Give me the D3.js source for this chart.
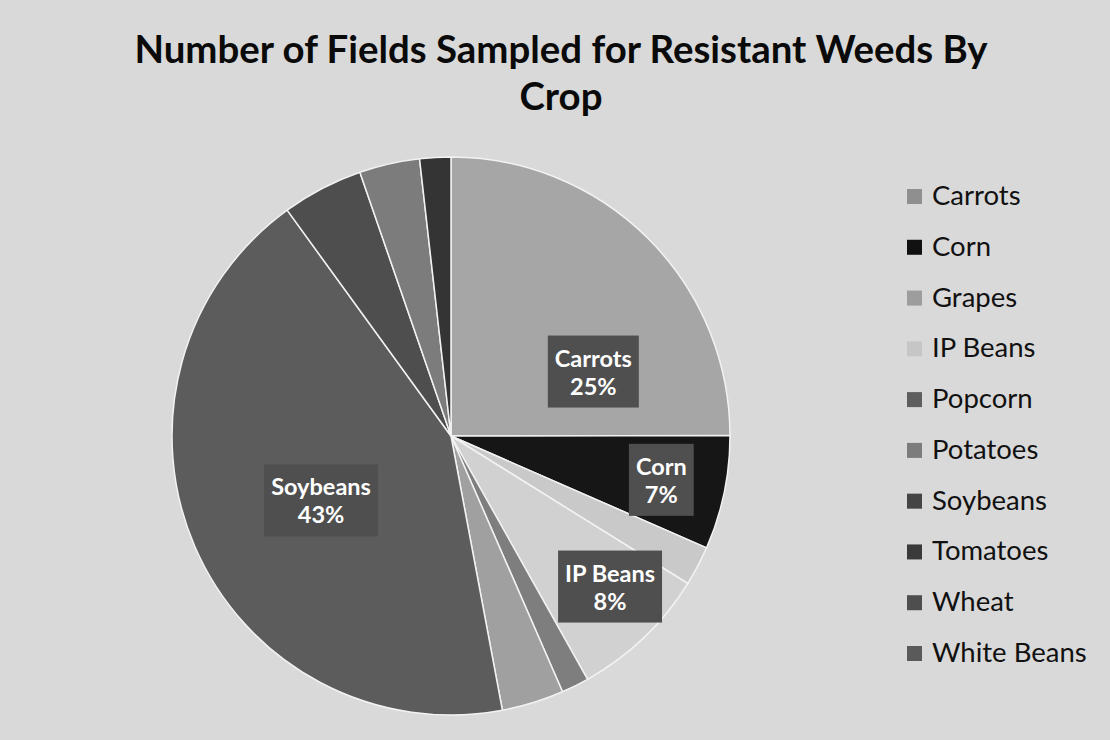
<!DOCTYPE html>
<html>
<head>
<meta charset="utf-8">
<script src="https://cdn.jsdelivr.net/npm/d3@7"></script>
<style>
  html, body { margin: 0; padding: 0; background: #d9d9d9; }
  svg { display: block; }
</style>
</head>
<body>
<svg id="chart" width="1110" height="740"></svg>
<script>
// ---- data ----
const titleLines = ["Number of Fields Sampled for Resistant Weeds By", "Crop"];
const categories = ["Carrots", "Corn", "Grapes", "IP Beans", "Popcorn", "Potatoes", "Soybeans", "Tomatoes", "Wheat", "White Beans"];
const values = [25.0, 6.6, 2.3, 8.0, 1.6, 3.6, 43.0, 4.7, 3.5, 1.8];
const labeled = ["Carrots", "Corn", "IP Beans", "Soybeans"];

// ---- styling / layout ----
const palette = ["#a6a6a6", "#161616", "#c9c9c9", "#d1d1d1", "#7e7e7e", "#a0a0a0", "#5c5c5c", "#4e4e4e", "#7c7c7c", "#343434"];
const legendPalette = ["#8f8f8f", "#111111", "#9d9d9d", "#c6c6c6", "#5e5e5e", "#7c7c7c", "#444444", "#3a3a3a", "#4e4e4e", "#5a5a5a"];
// label placement inside its slice: fraction along the slice angle, fraction of radius
const labelPlacement = {
  "Carrots": [0.73, 0.56],
  "Corn": [0.5, 0.77],
  "IP Beans": [0.4, 0.785],
  "Soybeans": [0.48, 0.52]
};

const W = 1110, H = 740;
const cx = 451, cy = 436, R = 279;
const svg = d3.select("#chart");

svg.append("rect").attr("width", W).attr("height", H).attr("fill", "#d9d9d9");

// title
const title = svg.append("text")
  .attr("text-anchor", "middle")
  .attr("font-family", "Lato, 'Open Sans', sans-serif")
  .attr("font-weight", "bold")
  .attr("font-size", 38.4)
  .attr("fill", "#0a0a0a");
titleLines.forEach((t, i) => {
  title.append("tspan").attr("x", 561).attr("y", 63 + i * 47).text(t);
});

const color = d3.scaleOrdinal().domain(categories).range(palette);
const legendColor = d3.scaleOrdinal().domain(categories).range(legendPalette);

const data = categories.map((c, i) => ({ name: c, value: values[i] }));
const total = d3.sum(values);
const pie = d3.pie().sort(null).value(d => d.value);
const arcs = pie(data);
const arc = d3.arc().innerRadius(0).outerRadius(R);

const g = svg.append("g").attr("transform", `translate(${cx},${cy})`);
g.selectAll("path.slice")
  .data(arcs)
  .join("path")
  .attr("class", "slice")
  .attr("d", arc)
  .attr("fill", d => color(d.data.name))
  .attr("stroke", "#f2f2f2")
  .attr("stroke-width", 1.5)
  .attr("stroke-linejoin", "round");

// data labels
const labelG = g.selectAll("g.lbl")
  .data(arcs.filter(d => labeled.includes(d.data.name)))
  .join("g")
  .attr("class", "lbl")
  .attr("transform", d => {
    const [t, rf] = labelPlacement[d.data.name];
    const a = d.startAngle + t * (d.endAngle - d.startAngle);
    const r = rf * R;
    return `translate(${r * Math.sin(a)},${-r * Math.cos(a)})`;
  });

labelG.each(function(d) {
  const sel = d3.select(this);
  const txt = sel.append("text")
    .attr("text-anchor", "middle")
    .attr("font-family", "Lato, 'Open Sans', sans-serif")
    .attr("font-weight", "bold")
    .attr("font-size", 23.5)
    .attr("fill", "#ffffff");
  txt.append("tspan").attr("x", 0).attr("y", -5).text(d.data.name);
  txt.append("tspan").attr("x", 0).attr("y", 23).text(Math.round(d.data.value / total * 100) + "%");
  const bb = txt.node().getBBox();
  sel.insert("rect", "text")
    .attr("x", bb.x - 7)
    .attr("y", -36)
    .attr("width", bb.width + 14)
    .attr("height", 72)
    .attr("fill", "#4f4f4f");
});

// legend
const legend = svg.append("g").attr("transform", "translate(907,0)");
const ly = d3.scalePoint().domain(categories).range([205, 662]);
const items = legend.selectAll("g.item")
  .data(categories)
  .join("g")
  .attr("class", "item")
  .attr("transform", d => `translate(0,${ly(d)})`);
items.append("rect")
  .attr("x", 0).attr("y", -16)
  .attr("width", 15).attr("height", 15)
  .attr("fill", d => legendColor(d));
items.append("text")
  .attr("x", 25).attr("y", 0)
  .attr("font-family", "Lato, 'Open Sans', sans-serif")
  .attr("font-size", 27.5)
  .attr("fill", "#111111")
  .text(d => d);
</script>
</body>
</html>
